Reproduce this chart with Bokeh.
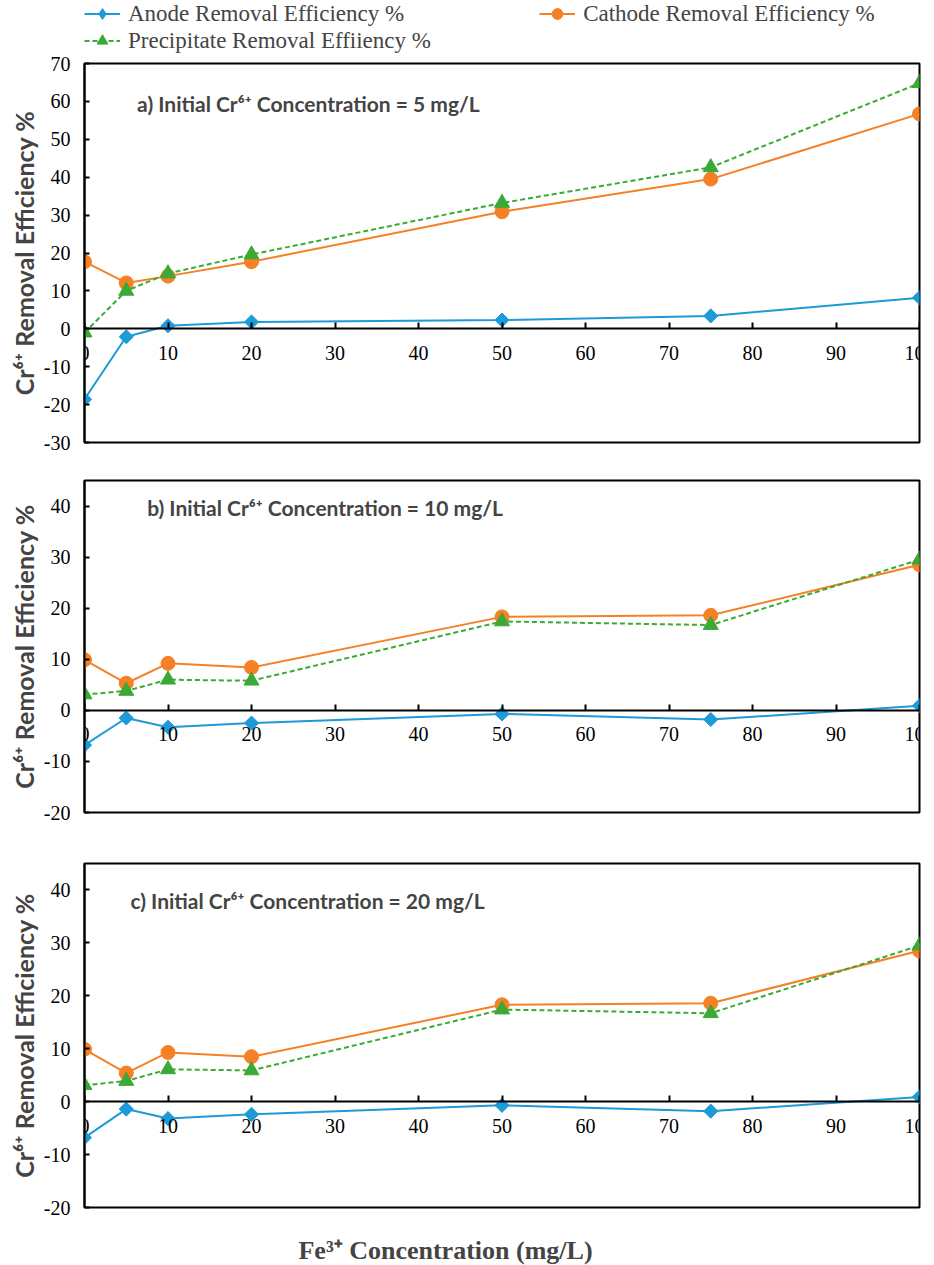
import math

from bokeh.plotting import figure
from bokeh.models import ColumnDataSource, Label, Legend, LegendItem, FixedTicker
from bokeh.layouts import column
from bokeh.embed import file_html
from bokeh.resources import INLINE

# Fe3+ dose (mg/L)
fe = [0, 5, 10, 20, 50, 75, 100]

# a) initial Cr6+ = 5 mg/L
a_anode = [-18.6, -2.1, 0.8, 1.8, 2.3, 3.4, 8.2]
a_cathode = [17.7, 12.1, 13.9, 17.7, 30.9, 39.5, 56.7]
a_precip = [-1.0, 10.0, 14.6, 19.6, 33.2, 42.6, 64.8]

# b) initial Cr6+ = 10 mg/L
b_anode = [-6.8, -1.5, -3.3, -2.5, -0.7, -1.8, 0.9]
b_cathode = [9.9, 5.3, 9.2, 8.4, 18.3, 18.6, 28.5]
b_precip = [3.1, 3.8, 6.0, 5.8, 17.4, 16.7, 29.5]

# c) initial Cr6+ = 20 mg/L
c_anode = [-6.8, -1.4, -3.2, -2.4, -0.7, -1.8, 0.9]
c_cathode = [9.9, 5.4, 9.3, 8.5, 18.3, 18.6, 28.5]
c_precip = [3.1, 3.9, 6.1, 5.9, 17.4, 16.7, 29.5]

x_ticks = [0, 10, 20, 30, 40, 50, 60, 70, 80, 90, 100]
notes = ["a) Initial Cr⁶⁺ Concentration = 5 mg/L",
         "b) Initial Cr⁶⁺ Concentration = 10 mg/L",
         "c) Initial Cr⁶⁺ Concentration = 20  mg/L"]
series_names = ["Anode Removal Efficiency %", "Cathode Removal Efficiency %",
                "Precipitate Removal Effiiency %"]
x_title = "Fe³⁺ Concentration (mg/L)"

BLUE = "#1d9ad8"
ORANGE = "#f68025"
GREEN = "#3aa935"
SERIF = "Liberation Serif"
SANS = "Lato"


def panel(anode, cathode, precip, y_range, y_ticks, note, nx, ny, height, top, bottom):
    p = figure(width=934, height=height, x_range=(0, 100), y_range=y_range,
               toolbar_location=None, output_backend="svg",
               min_border_left=84, min_border_right=15,
               min_border_top=top, min_border_bottom=bottom)
    p.grid.visible = False
    p.outline_line_color = "black"
    p.outline_line_width = 2

    src = ColumnDataSource(data=dict(x=fe, anode=anode, cathode=cathode, precip=precip))

    p.line("x", "anode", source=src, color=BLUE, line_width=2)
    p.scatter("x", "anode", source=src, marker="square", angle=math.pi / 4,
              size=10, color=BLUE)
    p.line("x", "cathode", source=src, color=ORANGE, line_width=2)
    p.scatter("x", "cathode", source=src, marker="circle", size=14, color=ORANGE)
    p.line("x", "precip", source=src, color=GREEN, line_width=2, line_dash="5 3")
    p.scatter("x", "precip", source=src, marker="triangle", size=15, color=GREEN)

    # x axis crosses at y = 0, ticks pointing up
    p.xaxis.fixed_location = 0
    p.xaxis.ticker = FixedTicker(ticks=x_ticks)
    p.xaxis.major_tick_in = 6
    p.xaxis.major_tick_out = 0
    p.xaxis.major_label_standoff = 17

    p.yaxis.ticker = FixedTicker(ticks=y_ticks)
    p.yaxis.major_label_overrides = {t: str(t) for t in y_ticks}
    p.yaxis.major_tick_in = 5
    p.yaxis.major_tick_out = 0
    p.yaxis.major_label_standoff = 14
    p.yaxis.axis_label = "Cr⁶⁺ Removal Efficiency %"
    p.yaxis.axis_label_text_font = SANS
    p.yaxis.axis_label_text_font_style = "bold"
    p.yaxis.axis_label_text_font_size = "25px"
    p.yaxis.axis_label_standoff = 2

    for ax in (p.xaxis, p.yaxis):
        ax.minor_tick_line_color = None
        ax.axis_line_width = 2
        ax.axis_line_color = "black"
        ax.major_tick_line_width = 2
        ax.major_tick_line_color = "black"
        ax.major_label_text_font = SERIF
        ax.major_label_text_font_size = "20px"
        ax.major_label_text_color = "black"

    p.add_layout(Label(x=nx, y=ny, text=note, text_font=SANS, text_font_style="bold",
                       text_font_size="21px", text_baseline="middle", text_align="left"))
    return p


def strip(height, x_range):
    s = figure(width=934, height=height, x_range=x_range, y_range=(0, 1),
               toolbar_location=None, output_backend="svg", outline_line_color=None,
               min_border_left=84, min_border_right=15, min_border_top=0, min_border_bottom=0)
    s.axis.visible = False
    s.grid.visible = False
    return s


# legend strip on top of the panels; its glyphs use panel a's data, kept out of view
pl = strip(54, (-2, -1))
pl.y_range.start, pl.y_range.end = -30, 70
leg_src = ColumnDataSource(data=dict(x=fe, anode=a_anode, cathode=a_cathode, precip=a_precip))
la = pl.line("x", "anode", source=leg_src, color=BLUE, line_width=2)
sa = pl.scatter("x", "anode", source=leg_src, marker="diamond", color=BLUE)
lc = pl.line("x", "cathode", source=leg_src, color=ORANGE, line_width=2)
sc = pl.scatter("x", "cathode", source=leg_src, marker="circle", color=ORANGE)
lp = pl.line("x", "precip", source=leg_src, color=GREEN, line_width=2, line_dash="5 3")
sp = pl.scatter("x", "precip", source=leg_src, marker="triangle", color=GREEN)

leg_style = dict(orientation="horizontal", glyph_width=36, glyph_height=27, label_height=27,
                 label_standoff=8, padding=0, margin=0, border_line_color=None,
                 background_fill_alpha=0, label_text_font=SERIF, label_text_font_size="23px")
leg1 = Legend(items=[LegendItem(label=series_names[0], renderers=[la, sa], index=0),
                     LegendItem(label=series_names[1], renderers=[lc, sc], index=0)],
              location=(0, 27), spacing=135, **leg_style)
leg2 = Legend(items=[LegendItem(label=series_names[2], renderers=[lp, sp], index=0)],
              location=(0, 0), **leg_style)
pl.add_layout(leg1)
pl.add_layout(leg2)

pa = panel(a_anode, a_cathode, a_precip, (-30, 70), list(range(-30, 71, 10)),
           notes[0], 6.3, 59.5, 406, 9, 18)
pb = panel(b_anode, b_cathode, b_precip, (-20, 45), list(range(-20, 41, 10)),
           notes[1], 7.5, 39.8, 370, 20, 18)
pc = panel(c_anode, c_cathode, c_precip, (-20, 45), list(range(-20, 41, 10)),
           notes[2], 5.5, 38.0, 405, 33, 28)

# x axis title strip below the last panel (x range in page pixels of the frame)
pt = strip(30, (84, 919))
pt.add_layout(Label(x=445, y=0.5, text=x_title, text_font=SERIF, text_font_style="bold",
                    text_font_size="26px", text_align="center", text_baseline="middle"))

layout = column(pl, pa, pb, pc, pt, spacing=0)
open("out.html", "w").write(file_html(layout, INLINE))
